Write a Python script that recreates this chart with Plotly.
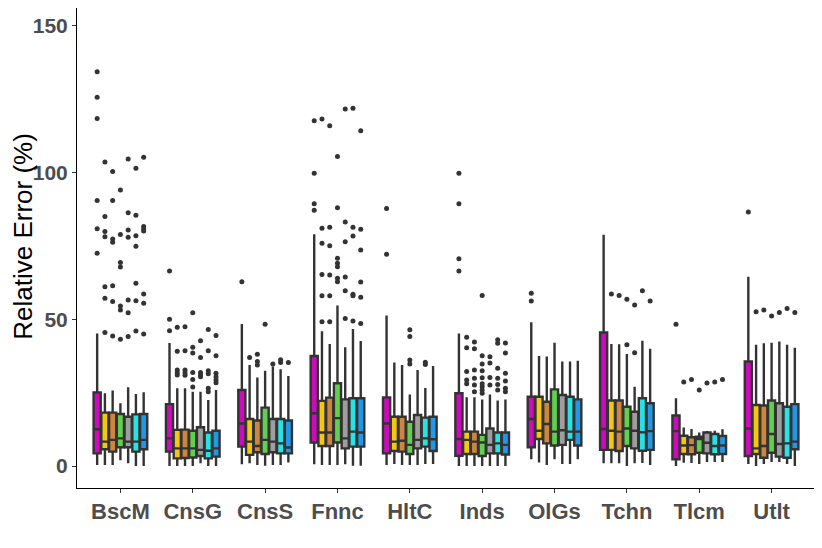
import plotly.graph_objects as go

sectors = ["BscM", "CnsG", "CnsS", "Fnnc", "HltC", "Inds", "OlGs", "Tchn", "Tlcm", "Utlt"]
methods = ["M1", "M2", "M3", "M4", "M5", "M6", "M7"]
colors = ["#CD0BBC", "#F5C710", "#CD853F", "#61D04F", "#9E9E9E", "#28E2E5", "#2297E6"]

# rows = sectors, columns = methods
upper = [
    [45.2, 24.8, 25.7, 21.4, 26.8, 24.5, 25.1],
    [41.9, 26.5, 26.5, 25.3, 25.3, 22.5, 25.9],
    [48.4, 34.4, 30.2, 32.5, 33.9, 33.0, 30.7],
    [79.0, 45.9, 41.6, 54.7, 40.5, 46.7, 42.6],
    [51.3, 35.3, 34.4, 24.4, 32.7, 26.6, 34.1],
    [45.2, 23.4, 23.4, 22.7, 24.4, 22.3, 22.7],
    [49.0, 37.5, 37.3, 42.0, 35.6, 35.6, 35.9],
    [78.8, 41.6, 41.5, 38.2, 27.0, 42.7, 40.0],
    [23.1, 13.1, 12.6, 11.4, 11.9, 12.0, 12.5],
    [64.5, 41.3, 41.8, 42.0, 42.4, 41.3, 40.3],
]
q3 = [
    [25.1, 18.2, 18.2, 17.7, 16.8, 17.6, 17.7],
    [21.1, 12.3, 12.4, 12.0, 13.2, 11.4, 12.0],
    [25.9, 16.0, 15.5, 19.9, 16.0, 16.0, 15.5],
    [37.5, 22.2, 23.3, 28.2, 22.7, 23.1, 23.1],
    [23.4, 16.8, 16.8, 15.1, 17.4, 16.5, 16.8],
    [24.8, 11.7, 11.7, 10.6, 12.8, 11.4, 11.4],
    [23.6, 23.6, 21.9, 26.1, 24.2, 23.6, 22.7],
    [45.5, 22.3, 22.3, 20.2, 18.5, 23.1, 21.4],
    [17.2, 10.3, 9.8, 10.0, 11.4, 10.9, 10.2],
    [35.6, 20.8, 20.6, 22.3, 21.4, 20.2, 21.1],
]
median = [
    [12.5, 8.3, 8.9, 9.4, 8.3, 8.3, 8.9],
    [9.4, 6.0, 6.0, 6.0, 5.5, 5.2, 6.0],
    [14.5, 8.3, 6.8, 8.9, 8.3, 7.7, 6.3],
    [18.0, 11.4, 11.4, 16.3, 9.4, 11.7, 11.4],
    [14.5, 8.3, 8.6, 7.2, 8.9, 9.4, 9.1],
    [9.2, 8.9, 8.3, 8.0, 7.2, 7.7, 7.2],
    [16.0, 12.0, 14.3, 11.7, 12.2, 11.7, 11.7],
    [12.6, 12.0, 11.7, 12.8, 12.0, 11.5, 11.9],
    [11.9, 7.0, 7.1, 9.2, 7.9, 6.8, 7.0],
    [12.8, 6.0, 6.8, 10.9, 7.5, 7.7, 8.3],
]
q1 = [
    [4.3, 5.7, 4.9, 6.4, 6.4, 4.9, 5.7],
    [4.9, 2.6, 2.7, 2.9, 3.4, 2.6, 3.2],
    [6.6, 3.8, 4.7, 4.1, 4.7, 4.3, 4.3],
    [8.0, 6.8, 6.8, 8.0, 6.0, 6.6, 6.6],
    [4.3, 5.1, 4.9, 4.1, 6.0, 6.6, 5.1],
    [3.5, 4.1, 4.1, 3.4, 4.3, 4.3, 3.9],
    [6.4, 9.2, 7.7, 7.0, 7.2, 8.9, 7.0],
    [5.5, 5.5, 5.1, 6.8, 6.0, 5.2, 5.5],
    [2.3, 4.1, 4.0, 4.5, 4.3, 4.0, 4.1],
    [3.4, 4.1, 2.8, 4.5, 3.2, 2.8, 5.7],
]
lower = [
    [0.3, 0.3, 0.3, 2.0, 0.9, 0.0, 0.0],
    [0.0, 0.0, 0.0, 0.0, 0.9, 0.0, 0.0],
    [0.6, 0.9, 0.3, 0.1, 0.3, 0.3, 1.2],
    [0.6, 0.3, 0.3, 0.3, 0.6, 0.1, 0.1],
    [0.3, 0.7, 0.3, 0.3, 0.3, 0.7, 0.7],
    [0.0, 0.0, 0.0, 0.0, 0.0, 0.0, 0.0],
    [2.3, 1.2, 0.3, 2.3, 0.7, 0.7, 2.3],
    [0.9, 0.9, 0.9, 0.0, 0.9, 1.0, 0.3],
    [0.0, 1.1, 1.0, 0.7, 1.4, 1.4, 1.4],
    [0.7, 0.0, 0.7, 1.4, 1.4, 0.7, 0.0],
]

outliers = {
    "BscM": [
        [134.4, 125.7, 118.4, 90.5, 80.9, 72.5],
        [103.6, 85.0, 79.9, 78.1, 61.1, 57.2, 45.5],
        [100.4, 90.5, 77.4, 76.3, 61.4, 56.1, 44.3],
        [94.1, 78.9, 69.4, 67.8, 54.5, 53.2, 43.2],
        [104.6, 86.3, 80.4, 78.0, 56.6, 52.2, 44.1],
        [101.5, 85.5, 78.5, 74.9, 62.3, 56.3, 46.0],
        [105.2, 81.6, 80.8, 80.1, 58.6, 55.5, 45.0],
    ],
    "CnsG": [
        [66.5, 50.0, 46.1],
        [47.3, 39.1, 32.7, 31.8, 31.0],
        [47.5, 39.3, 32.7, 31.8, 30.9],
        [52.2, 40.5, 38.5, 31.9, 29.5, 26.9],
        [42.7, 37.0, 31.9, 31.0, 30.4],
        [46.5, 39.3, 32.5, 31.4, 26.5, 25.3],
        [44.5, 37.6, 31.6, 30.4, 29.3, 28.4],
    ],
    "CnsS": [[62.8], [37.0], [38.1, 35.6, 34.4], [48.3], [34.8], [36.2, 35.3], [35.3]],
    "Fnnc": [
        [117.7, 99.8, 89.4, 87.2],
        [118.3, 81.0, 75.9, 65.3, 58.0, 49.2],
        [116.0, 81.4, 75.1, 65.1, 58.0, 49.2],
        [105.5, 88.0, 70.8, 69.1, 67.9, 64.0, 62.8],
        [121.7, 83.2, 76.4, 64.4, 59.7, 50.3],
        [121.9, 81.4, 78.4, 58.5, 58.0, 49.4],
        [114.3, 80.7, 73.6, 62.7, 57.5, 48.6],
    ],
    "HltC": [[87.8, 72.2], [], [], [46.4, 44.1, 36.1, 34.8], [], [35.4, 34.6], []],
    "Inds": [
        [99.8, 89.4, 70.6, 66.5],
        [43.9, 40.3, 32.2, 29.3, 28.0],
        [42.3, 40.0, 32.7, 29.9, 27.6, 25.3],
        [58.1, 37.6, 34.8, 32.5, 30.1, 28.0, 27.0, 25.9, 24.8],
        [37.2, 35.1, 30.2, 27.6],
        [43.0, 41.8, 33.3, 29.9, 27.8, 25.9],
        [41.9, 38.5, 31.6, 29.0, 26.5, 25.3],
    ],
    "OlGs": [[58.9, 56.2], [], [], [], [], [], []],
    "Tchn": [[], [58.6], [58.1], [56.8, 41.3], [54.9, 38.6], [59.7], [56.2]],
    "Tlcm": [[48.3], [28.6], [29.5], [25.9], [28.3], [28.6], [29.5]],
    "Utlt": [[86.6], [52.6], [53.2], [51.1], [52.3], [53.7], [52.3]],
}

dodge = 0.75 / len(methods)
fig = go.Figure()

for j, (name, col) in enumerate(zip(methods, colors)):
    off = (j - (len(methods) - 1) / 2) * dodge
    xs = [i + 1 + off for i in range(len(sectors))]
    fig.add_trace(go.Box(
        name=name,
        x=xs,
        q1=[r[j] for r in q1],
        median=[r[j] for r in median],
        q3=[r[j] for r in q3],
        lowerfence=[r[j] for r in lower],
        upperfence=[r[j] for r in upper],
        width=dodge * 0.92,
        whiskerwidth=0,
        fillcolor=col,
        line=dict(color="#333333", width=2.4),
        boxpoints=False,
        showlegend=False,
    ))
    ox, oy = [], []
    for i, s in enumerate(sectors):
        for v in outliers[s][j]:
            ox.append(i + 1 + off)
            oy.append(v)
    fig.add_trace(go.Scatter(
        x=ox, y=oy, mode="markers",
        marker=dict(color="#333333", size=5),
        showlegend=False, hoverinfo="y",
    ))

tick_font = dict(family="Liberation Sans, Arial, sans-serif", size=21, color="#4D4D4D", weight="bold")

# page body adds an 8px offset, so the figure is a bit smaller than the window
fig.update_layout(
    width=814,
    height=540,
    margin=dict(l=69, r=7, t=0, b=60),
    plot_bgcolor="white",
    paper_bgcolor="white",
)
# y title as an annotation so it sits left of the tick labels like the original
fig.add_annotation(
    text="Relative Error (%)",
    xref="paper", yref="paper", x=-0.0735, y=0.525,
    xanchor="center", yanchor="middle", textangle=-90,
    showarrow=False,
    font=dict(family="Liberation Sans, Arial, sans-serif", size=26, color="black"),
)
fig.update_xaxes(
    range=[0.4, 10.6],
    tickvals=list(range(1, len(sectors) + 1)),
    ticktext=sectors,
    tickfont=dict(tick_font, size=22),
    showline=True, linecolor="black", linewidth=1,
    ticks="outside", ticklen=4, tickcolor="#333333",
    showgrid=False, zeroline=False, automargin=False,
)
fig.update_yaxes(
    range=[-7.5, 156.1],
    tickvals=[0, 50, 100, 150],
    tickfont=tick_font,
    showline=True, linecolor="black", linewidth=1,
    ticks="outside", ticklen=4, tickcolor="#333333",
    showgrid=False, zeroline=False, automargin=False,
)

fig.write_html("out.html")
